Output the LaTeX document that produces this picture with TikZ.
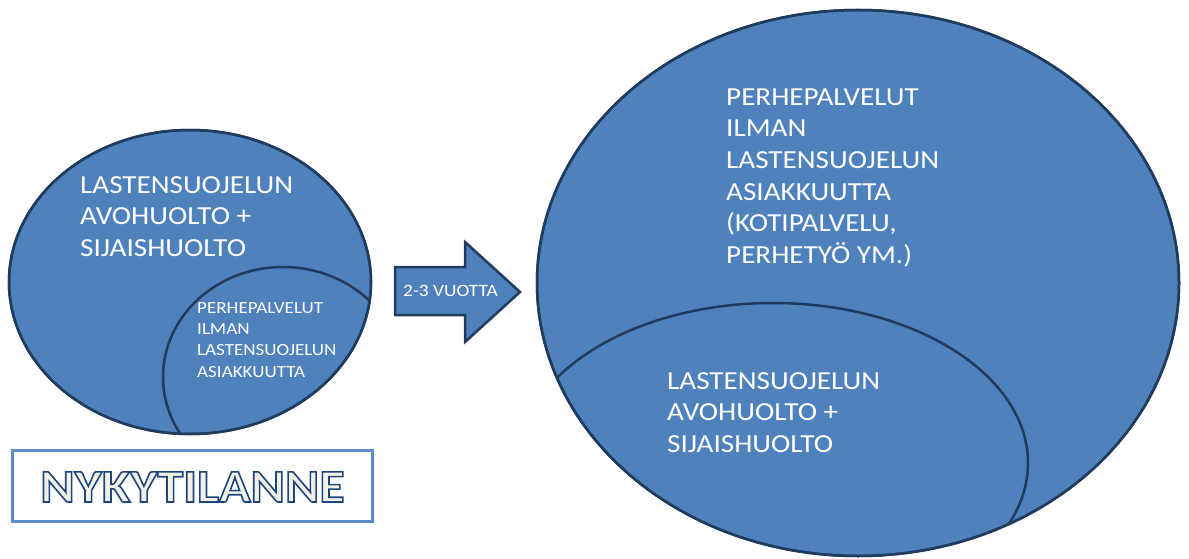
\documentclass[tikz,border=0pt]{standalone}
\usepackage{fontspec}
\setmainfont{Carlito}
\newfontfamily\cf[FakeStretch=1.12]{Carlito}
\newfontfamily\cfb[FakeStretch=1.12]{Carlito Bold}
\usetikzlibrary{shapes.geometric}
\definecolor{shapeblue}{HTML}{4F81BD}
\definecolor{shapeline}{HTML}{1F3B5E}
\definecolor{boxblue}{HTML}{5B8BC8}
\definecolor{cream}{HTML}{F3F0E4}
\newcommand\strokedtext[1]{\special{pdf:literal direct 2 Tr 1.6 w 0.11 0.27 0.50 RG}#1\special{pdf:literal direct 0 Tr}}
\tikzset{
  ellbody/.style={ellipse, fill=shapeblue, draw=shapeline, line width=2.5pt, inner sep=0pt},
  ellline/.style={ellipse, draw=shapeline, line width=2.5pt, inner sep=0pt},
  ellborder/.style={draw=shapeline, line width=2.5pt},
  arrowshape/.style={fill=shapeblue, draw=shapeline, line width=2.5pt, line join=miter},
  txt/.style={anchor=base west, align=left, inner sep=0pt, text=white},
  bigfont/.style={font={\cf\fontsize{26pt}{31.7pt}\selectfont}},
  smallfont/.style={font={\cf\fontsize{17pt}{21.3pt}\selectfont}},
  arrfont/.style={font={\cf\fontsize{17.3pt}{20pt}\selectfont}},
  titlebox/.style={draw=boxblue, line width=3pt, minimum width=360pt, minimum height=71pt, inner sep=0pt},
}
\begin{document}
\begin{tikzpicture}[x=1pt,y=-1pt]
\useasboundingbox (0,0) rectangle (1189,559);
% ---- small ellipse (current situation)
\node[ellbody, minimum width=362pt, minimum height=304pt] (small) at (190,282) {};
\begin{scope}
  \clip (190,282) ellipse [x radius=181pt, y radius=152pt];
  \node[ellline, minimum width=240pt, minimum height=220pt] (smallin) at (283,377) {};
\end{scope}
\draw[ellborder] (small.center) ellipse [x radius=181pt, y radius=152pt];
% (base anchor = baseline of the last line)
\node[txt, bigfont] (smalltxt) at (80,256.6) {LASTENSUOJELUN\\AVOHUOLTO +\\SIJAISHUOLTO};
\node[txt, smallfont] (smallintxt) at (197,377) {PERHEPALVELUT\\ILMAN\\LASTENSUOJELUN\\ASIAKKUUTTA};
% ---- block arrow
\draw[arrowshape] (395,267) -- (465,267) -- (465,242) -- (520,292) -- (465,342) -- (465,315) -- (395,315) -- cycle;
\node[txt, arrfont] (arrtxt) at (403,296.5) {2-3 VUOTTA};
% ---- big ellipse (future)
\node[ellbody, minimum width=642pt, minimum height=546pt] (big) at (858,283) {};
\begin{scope}
  \clip (858,283) ellipse [x radius=321pt, y radius=273pt];
  \node[ellline, minimum width=510pt, minimum height=320pt] (bigin) at (773,463) {};
\end{scope}
\draw[ellborder] (big.center) ellipse [x radius=321pt, y radius=273pt];
\node[txt, bigfont] (bigtxt) at (726,263.5) {PERHEPALVELUT\\ILMAN\\LASTENSUOJELUN\\ASIAKKUUTTA\\(KOTIPALVELU,\\PERHETYÖ YM.)};
\node[txt, bigfont] (bigintxt) at (667,452.4) {LASTENSUOJELUN\\AVOHUOLTO +\\SIJAISHUOLTO};
% ---- title box
\node[titlebox] (box) at (192,485.5) {};
\node[anchor=base, inner sep=0pt, text=cream, font={\cfb\fontsize{46.5pt}{50pt}\selectfont}] (title) at (192.5,502) {\strokedtext{NYKYTILANNE}};
\end{tikzpicture}
\end{document}
